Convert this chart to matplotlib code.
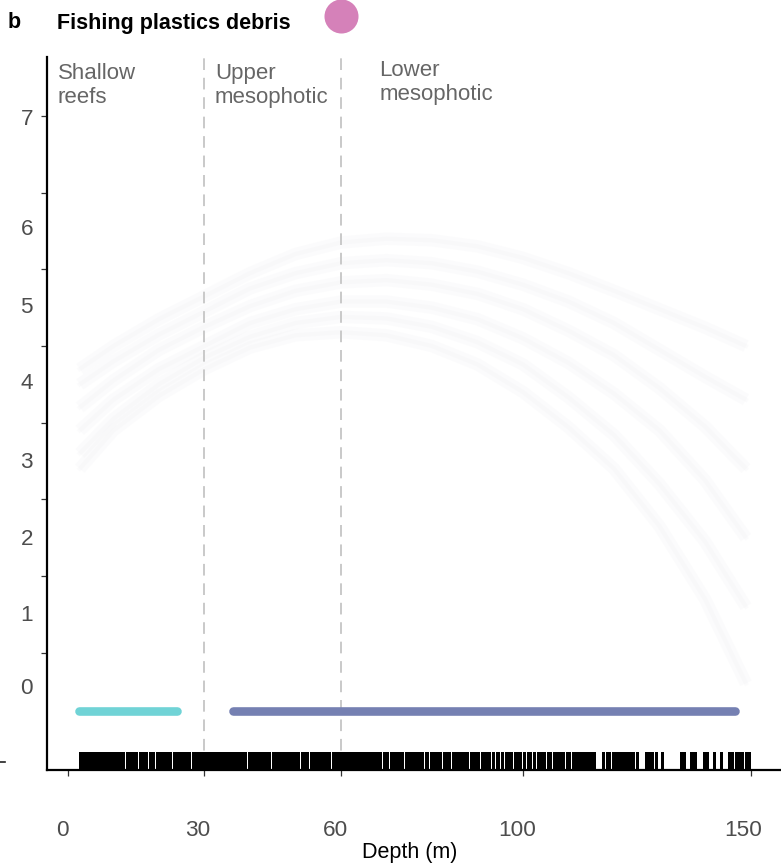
import numpy as np
import matplotlib
matplotlib.use("Agg")
import matplotlib.pyplot as plt
from matplotlib.lines import Line2D

plt.rcParams["font.family"] = "Liberation Sans"

# depth zones
zone_edges = [30, 60]
zone_names = ["Shallow\nreefs", "Upper\nmesophotic", "Lower\nmesophotic"]
zone_text_x = [-2.2, 32.3, 68.4]
zone_text_y = [7.69, 7.69, 7.73]

# smooth fits (faint draws), value vs depth
fit_depth = [2.6, 10, 20, 30, 40, 50, 60, 70, 80, 90, 100, 110, 120, 130, 140, 149]
fit_draws = [
    [3.7, 4.0, 4.35, 4.65, 4.95, 5.2, 5.35, 5.4, 5.38, 5.3, 5.15, 4.95, 4.72, 4.48, 4.24, 4.0],
    [3.5, 3.8, 4.15, 4.45, 4.75, 4.95, 5.08, 5.12, 5.08, 4.97, 4.8, 4.58, 4.3, 3.95, 3.6, 3.3],
    [3.2, 3.55, 3.95, 4.25, 4.52, 4.72, 4.83, 4.86, 4.8, 4.68, 4.48, 4.2, 3.88, 3.45, 2.95, 2.4],
    [2.9, 3.3, 3.7, 4.0, 4.3, 4.48, 4.58, 4.58, 4.5, 4.35, 4.1, 3.78, 3.38, 2.9, 2.25, 1.5],
    [2.6, 3.05, 3.5, 3.85, 4.12, 4.3, 4.38, 4.36, 4.25, 4.05, 3.76, 3.33, 2.84, 2.2, 1.45, 0.6],
    [2.4, 2.9, 3.35, 3.7, 3.98, 4.14, 4.18, 4.14, 4.0, 3.76, 3.4, 2.94, 2.4, 1.65, 0.7, -0.4],
]

# significant depth ranges
range_start = [2.5, 36.3]
range_end = [23.9, 146.7]
range_colors = ["#70d3d6", "#7580b2"]
range_y = -0.76

# sampled depths (rug)
rug_depth = [
    2.6, 3.0, 3.3, 3.7, 4.1, 4.4, 4.8, 5.2, 5.5, 5.9, 6.3, 6.6, 7.0, 7.4, 7.8, 8.1,
    8.5, 8.9, 9.3, 9.6, 10.0, 10.4, 10.8, 11.2, 11.6, 12.0,
    12.9, 13.3, 13.7, 14.1, 14.6, 15.0, 15.9, 16.3, 16.7, 17.1, 18.0, 18.4, 18.8,
    19.6, 20.0, 20.4, 20.8, 21.2, 21.6, 22.0, 22.4, 23.3, 23.7, 24.1, 24.5, 24.9,
    25.3, 25.7, 26.1, 26.5, 27.4, 27.8, 28.2, 28.6, 29.0, 29.4, 29.8,
    30.6, 31.0, 31.4, 31.8, 32.2, 32.6, 33.0, 33.4, 33.8, 34.2, 34.6, 35.0, 35.4,
    35.8, 36.2, 36.6, 37.0, 37.4, 37.8, 38.2, 38.6, 39.0, 39.8, 40.2, 40.6, 41.0,
    41.4, 41.8, 42.2, 42.6, 43.0, 43.4, 43.8, 44.2, 45.0, 45.4, 46.2, 46.6, 47.0,
    47.4, 47.8, 48.2, 48.6, 49.0, 49.4, 49.8, 50.2, 50.6, 51.4, 51.8, 52.2, 52.6,
    53.4, 53.8, 54.2, 54.6, 55.0, 55.4, 55.8, 56.2, 56.6, 57.0, 57.4, 58.2, 58.6,
    59.0, 59.4, 59.8,
    60.2, 60.6, 61.0, 61.4, 61.8, 62.2, 62.6, 63.0, 63.4, 63.8, 64.2, 64.6, 65.0,
    65.4, 65.8, 66.2, 66.6, 67.0, 67.4, 68.2, 68.6, 69.4, 69.8, 70.2, 71.0, 71.4,
    72.2, 72.6, 73.0, 73.4, 74.2, 75.0, 75.4, 75.8, 76.2, 76.6, 77.0, 77.4, 77.8,
    78.6, 79.0, 79.8, 80.2, 80.6, 81.0, 81.8, 82.6, 83.0, 83.4, 83.8, 84.6, 85.0,
    85.4, 85.8, 86.2, 86.6, 87.0, 87.4, 87.8, 88.6, 89.0, 89.4, 90.2, 91.0, 91.4,
    92.2, 92.6, 93.4, 94.2, 94.6, 95.4, 96.2, 96.6, 97.4, 98.2, 98.6, 99.4, 100.2,
    101.0, 101.6, 102.4, 103.2, 104.0, 104.6, 105.4, 106.0, 106.8, 107.4, 108.2,
    108.8, 109.6, 110.2, 111.0, 111.6, 112.4, 113.0, 113.6, 114.2, 115.0, 115.6,
    117.6, 118.4, 119.0, 119.8, 120.4, 121.0, 121.8, 122.4, 123.0, 123.6, 124.2,
    125.0, 127.0, 127.7, 128.4, 129.2, 130.5, 134.7, 135.4, 136.9, 137.4, 137.8,
    139.8, 140.4, 142.0, 143.5, 145.3, 146.0, 146.8, 147.5, 148.1, 149.0, 149.6,
]

x_ticks = [0, 30, 60, 100, 150]
y_ticks = [0, 1, 2, 3, 4, 5, 6, 7]
y_labels = ["0", "1", "2", "3", "4", "5", "6", "7"]
y_label_pos = [-0.43, 0.52, 1.51, 2.52, 3.55, 4.54, 5.55, 6.99]
x_label_pos = [-1.3, 28.6, 58.7, 98.7, 148.5]

fig = plt.figure(figsize=(7.81, 8.63), dpi=100)
ax = fig.add_axes([47 / 781, 93 / 863, 734 / 781, 713 / 863])
ax.set_xlim(-4.6, 156.7)
ax.set_ylim(-1.53, 7.77)

# faint fitted curves
for d in fit_draws:
    ax.plot(fit_depth, d, color="#e4e4ea", lw=9, alpha=0.12, solid_capstyle="butt",
            solid_joinstyle="round", zorder=1)
    ax.plot(fit_depth, d, color="#e4e4ea", lw=3, alpha=0.12, solid_joinstyle="round", zorder=1)

for e in zone_edges:
    ax.axvline(e, color="#c9c9c9", lw=1.4, dashes=(6, 4), zorder=2)

for s, e, c in zip(range_start, range_end, range_colors):
    ax.plot([s, e], [range_y, range_y], color=c, lw=6.2, solid_capstyle="round", zorder=3)

ax.vlines(rug_depth, -1.53, -1.29, color="black", lw=1.0, antialiased=False, zorder=3)

for name, tx, ty in zip(zone_names, zone_text_x, zone_text_y):
    ax.text(tx, ty, name, ha="left", va="top", fontsize=16, color="#666666", linespacing=1.17)

# dot for the panel legend
ax.plot([60], [8.3], "o", ms=24.5, color="#d581b9", mec="none", clip_on=False, zorder=5)

for side in ["top", "right"]:
    ax.spines[side].set_visible(False)
ax.spines["left"].set_linewidth(1.6)
ax.spines["bottom"].set_linewidth(1.6)

ax.set_xticks(x_ticks)
ax.set_xticklabels([])
ax.set_xticks(x_label_pos, minor=True)
ax.set_xticklabels([str(v) for v in x_ticks], minor=True)
ax.set_yticks(y_ticks)
ax.set_yticklabels([])
ax.set_yticks(y_label_pos, minor=True)
ax.set_yticklabels(y_labels, minor=True)
ax.tick_params(which="major", length=4, width=0.9, color="#333333")
ax.tick_params(which="minor", length=0, labelsize=16.2, labelcolor="#4d4d4d")
ax.tick_params(axis="x", which="minor", pad=36)
ax.tick_params(axis="y", which="minor", pad=10)

fig.text(410 / 781, 11 / 863, "Depth (m)", ha="center", va="center", fontsize=15.5, color="black")
fig.text(8 / 781, 840 / 863, "b", ha="left", va="center", fontsize=15.5, fontweight="bold")
fig.text(57 / 781, 840 / 863, "Fishing plastics debris", ha="left", va="center", fontsize=15.5,
         fontweight="bold")
fig.add_artist(Line2D([0, 5 / 781], [101 / 863, 101 / 863], color="#222222", lw=1.2))

fig.savefig("out.png", dpi=100)
